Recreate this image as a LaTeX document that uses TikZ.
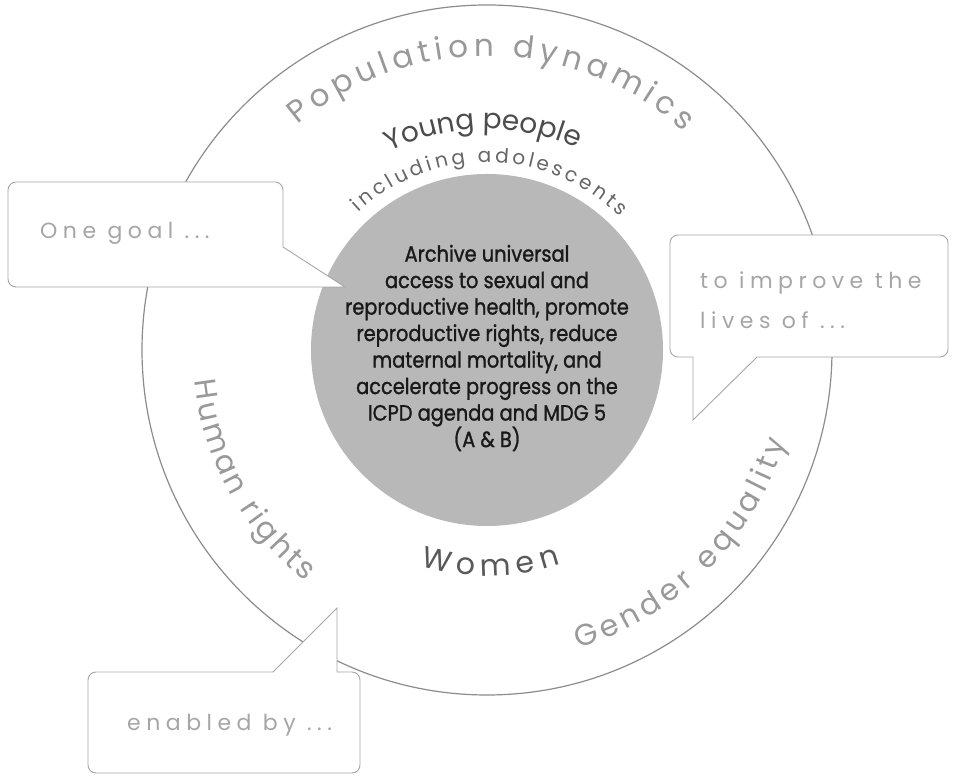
\documentclass[tikz,border=0pt]{standalone}
\usepackage{fontspec}
\setmainfont{Poppins}
\newfontfamily\popf{Poppins}
\newfontfamily\condf[FakeStretch=0.88,FakeBold=1.2]{Poppins}
\newfontfamily\callf[LetterSpace=25]{Poppins}
\usetikzlibrary{decorations.text}
\begin{document}
\begin{tikzpicture}[x=1pt,y=1pt,
  ringtxt/.style={decorate, decoration={text along path, text align=fit to path, text={#1}}},
  ringmid/.style={decorate, decoration={text along path, text align=center, text={#1}}},
  callout/.style={draw=black!35, line width=0.9pt, fill=white},
  calltxt/.style={font=\callf\fontsize{22}{40}\selectfont, text=black!35, inner sep=0pt, align=left}]
\useasboundingbox (0,0) rectangle (953,778);
\fill[white] (0,0) rectangle (953,778);
% inner disk and outer ring
\fill[black!28] (487,428) circle[radius=176pt];
\draw[black!45, line width=1.2pt] (487,428) circle[radius=345pt];
\node[font=\condf\fontsize{22}{26.5}\selectfont, text=black!90, align=center] (goal) at (487,430)
  {Archive universal\\access to sexual and\\reproductive health, promote\\reproductive rights, reduce\\maternal mortality, and\\accelerate progress on the\\ICPD agenda and MDG 5\\(A \& B)};
% curved texts
\begin{scope}[shift={(487,428)}]
\path[ringtxt={|\popf\fontsize{31}{31}\selectfont\color{black!40}|Population dynamics}]
  (130:294pt) arc[start angle=130, end angle=48, radius=294pt];
\path[ringmid={|\popf\fontsize{28}{28}\selectfont\color{black!70}|Young people}]
  (140:221pt) arc[start angle=140, end angle=42, radius=221pt];
\path[ringtxt={|\popf\fontsize{20}{20}\selectfont\color{black!60}|including adolescents}]
  (133:188pt) arc[start angle=133, end angle=45, radius=188pt];
\path[ringtxt={|\popf\fontsize{30}{30}\selectfont\color{black!40}|Human rights}]
  (186:294pt) arc[start angle=186, end angle=232, radius=294pt];
\path[ringtxt={|\popf\fontsize{30}{30}\selectfont\color{black!40}|Gender equality}]
  (287:312pt) arc[start angle=287, end angle=343, radius=312pt];
\path[ringtxt={|\popf\fontsize{30}{30}\selectfont\color{black!65}|Women}]
  (253:226pt) arc[start angle=253, end angle=289, radius=226pt];
\end{scope}
% callouts
\draw[callout] (150,491) -- (16,491) arc[start angle=270, end angle=180, radius=8pt]
  -- (8,588) arc[start angle=180, end angle=90, radius=8pt]
  -- (275,596) arc[start angle=90, end angle=0, radius=8pt]
  -- (283,531) -- (345,491) -- cycle;
\draw[callout] (800,421) -- (940,421) arc[start angle=270, end angle=360, radius=8pt]
  -- (948,535) arc[start angle=0, end angle=90, radius=8pt]
  -- (678,543) arc[start angle=90, end angle=180, radius=8pt]
  -- (670,429) arc[start angle=180, end angle=270, radius=8pt]
  -- (693,421) -- (693,358) -- (757,421) -- cycle;
\draw[callout] (200,5) -- (352,5) arc[start angle=270, end angle=360, radius=8pt]
  -- (360,98) arc[start angle=0, end angle=90, radius=8pt]
  -- (337,106) -- (337,170) -- (273,106)
  -- (96,106) arc[start angle=90, end angle=180, radius=8pt]
  -- (88,13) arc[start angle=180, end angle=270, radius=8pt] -- cycle;
\node[calltxt, anchor=west] (one) at (40,545) {One goal ...};
\node[calltxt, anchor=west] (improve) at (700,478) {to improve the\\lives of ...};
\node[calltxt, anchor=west] (enabled) at (127,53) {enabled by ...};
\end{tikzpicture}
\end{document}
